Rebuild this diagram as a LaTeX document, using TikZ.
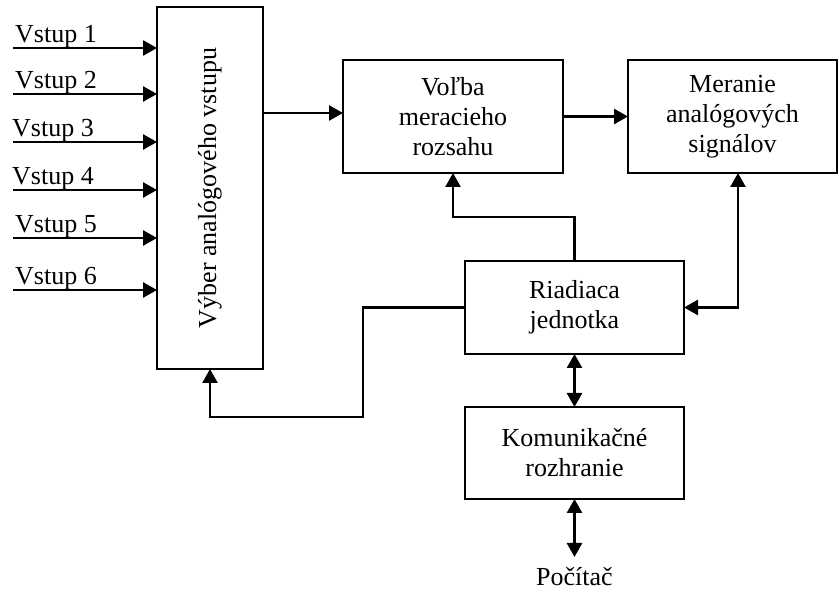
\documentclass[tikz,border=0pt]{standalone}
\usepackage{fontspec}
\setmainfont{Liberation Serif}
\usetikzlibrary{arrows.meta,calc}
\begin{document}
\begin{tikzpicture}[x=1pt,y=-1pt,
  blk/.style={draw,line width=2.2pt,inner sep=0pt,outer sep=0pt,align=center,
    font=\fontsize{26}{30}\selectfont},
  lbl/.style={inner sep=0pt,font=\fontsize{26}{30}\selectfont},
  conn/.style={line width=2.6pt},
  arr/.style={conn,-{Triangle[length=14pt,width=15pt]}},
  darr/.style={conn,{Triangle[length=14pt,width=15pt]}-{Triangle[length=14pt,width=15pt]}}
]
\useasboundingbox (0,0) rectangle (839,593);

\node[blk,minimum width=106pt,minimum height=362pt] (sel) at (210,188)
  {\rotatebox{90}{Výber analógového vstupu}};
\node[blk,minimum width=220pt,minimum height=113pt] (volba) at (453,116.5)
  {Voľba\\meracieho\\rozsahu};
\node[blk,minimum width=209pt,minimum height=113pt] (meranie) at (732.5,116.5)
  {Meranie\\analógových\\signálov};
\node[blk,minimum width=219pt,minimum height=93pt] (riad) at (574.5,307.5)
  {Riadiaca\\jednotka};
\node[blk,minimum width=219pt,minimum height=92pt] (kom) at (574.5,453)
  {Komunikačné\\rozhranie};
\node[lbl,anchor=base] (pc) at (574.5,586) {Počítač};
\coordinate (pcend) at (574.5,557);

% inputs
\foreach \i/\y/\lx in {1/48/15,2/94/15,3/142/12,4/190/12,5/238/15,6/290/15}{
  \coordinate (in\i) at (13,\y);
  \node[lbl,anchor=base west] (v\i) at (\lx,\y-5) {Vstup \i};
  \draw[arr] (in\i) -- (in\i -| sel.west);
}

\draw[arr] (sel.east |- 0,113) -- (volba.west |- 0,113);
\draw[arr] (volba.east) -- (meranie.west);
\draw[arr] (riad.north) -- (riad.north |- 0,217) -| (volba.south);
\draw[darr] (riad.east) -| (meranie.south -| 738,0);
\draw[arr] (riad.west) -| (363,417) -| (sel.south);
\draw[darr] (riad.south) -- (kom.north);
\draw[darr] (kom.south) -- (pcend);
\end{tikzpicture}
\end{document}
